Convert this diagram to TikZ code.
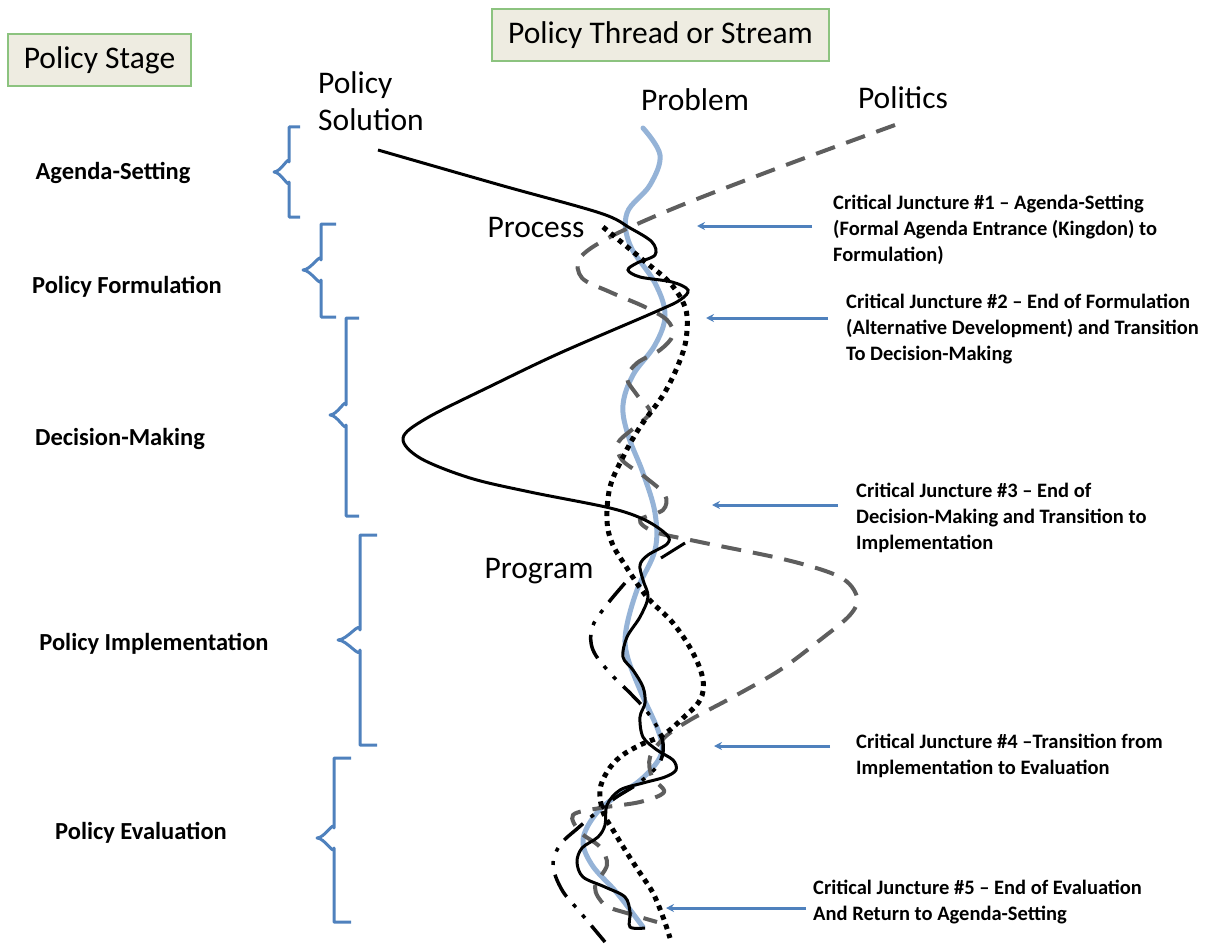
\documentclass[tikz,border=0pt]{standalone}
\usepackage{fontspec}
\setmainfont{Carlito}
\usetikzlibrary{arrows.meta}
\definecolor{probblue}{HTML}{95B3D7}
\definecolor{accblue}{HTML}{4F81BD}
\definecolor{polgray}{HTML}{5E5E5E}
\definecolor{boxfill}{HTML}{EEECE1}
\definecolor{boxline}{HTML}{8CC37F}
\tikzset{
  titlebox/.style={draw=boxline, fill=boxfill, line width=1.2pt, minimum height=52pt, inner sep=0pt, font=\fontsize{31.5}{37}\selectfont},
  big/.style={font=\fontsize{31.5}{37}\selectfont, inner sep=0pt},
  stage/.style={font=\bfseries\fontsize{24.5}{29}\selectfont, inner sep=0pt},
  junct/.style={font=\bfseries\fontsize{20.5}{26}\selectfont, align=left, anchor=north west, inner sep=0pt},
  bracestyle/.style={accblue, line width=3pt, line join=round},
  arr/.style={accblue, line width=3pt, -{Stealth[length=8pt,width=8pt]}},
  problemline/.style={probblue, line width=5pt, line cap=round},
  solutionline/.style={black, line width=3pt},
  politicsline/.style={polgray, line width=4pt, dash pattern=on 20pt off 12pt},
  processline/.style={black, line width=5pt, dash pattern=on 5pt off 5pt},
  programline/.style={black, line width=3.5pt, dash pattern=on 25pt off 10pt on 4pt off 10pt on 4pt off 10pt}
}
\begin{document}
\begin{tikzpicture}[x=1pt,y=-1pt]
\useasboundingbox (0,0) rectangle (1208,947);

% header boxes
\node[titlebox, minimum width=183pt] (stagebox) at (99.5,60) {Policy Stage};
\node[titlebox, minimum width=337pt] (threadbox) at (660.5,35) {Policy Thread or Stream};

% stream labels
\node[big, align=left, anchor=north west] (solution) at (318,71) {Policy\\Solution};
\node[big] (problem) at (695,100) {Problem};
\node[big] (politics) at (903,98) {Politics};
\node[big] (process) at (536,228) {Process};
\node[big] (program) at (539,571) {Program};

% stage labels
\node[stage] (s1) at (113,173) {Agenda-Setting};
\node[stage] (s2) at (127,287) {Policy Formulation};
\node[stage] (s3) at (120,439) {Decision-Making};
\node[stage] (s4) at (154,644) {Policy Implementation};
\node[stage] (s5) at (141,833) {Policy Evaluation};

% braces
\draw[bracestyle] (300,127) -- (289,127) -- (289,162) to[out=90,in=0] (274,172) to[out=0,in=-90] (289,182) -- (289,217) -- (300,217);
\draw[bracestyle] (336,224) -- (321,224) -- (321,260) to[out=90,in=0] (303,270) to[out=0,in=-90] (321,280) -- (321,317) -- (336,317);
\draw[bracestyle] (359,318) -- (346,318) -- (346,405) to[out=90,in=0] (330,415) to[out=0,in=-90] (346,425) -- (346,516) -- (359,516);
\draw[bracestyle] (377,535) -- (360,535) -- (360,630) to[out=90,in=0] (338,640) to[out=0,in=-90] (360,650) -- (360,745) -- (377,745);
\draw[bracestyle] (351,758) -- (334,758) -- (334,828) to[out=90,in=0] (317,838) to[out=0,in=-90] (334,848) -- (334,922) -- (351,922);

% juncture labels
\node[junct] (j1) at (833,195) {Critical Juncture \#1 – Agenda-Setting\\(Formal Agenda Entrance (Kingdon) to\\Formulation)};
\node[junct] (j2) at (846,294) {Critical Juncture \#2 – End of Formulation\\(Alternative Development) and Transition\\To Decision-Making};
\node[junct] (j3) at (856,483) {Critical Juncture \#3 – End of\\Decision-Making and Transition to\\Implementation};
\node[junct] (j4) at (856,734) {Critical Juncture \#4 –Transition from\\Implementation to Evaluation};
\node[junct] (j5) at (813,880) {Critical Juncture \#5 – End of Evaluation\\And Return to Agenda-Setting};

% arrows
\coordinate (a1s) at (812,226); \coordinate (a1e) at (697,226);
\coordinate (a2s) at (828,318); \coordinate (a2e) at (706,318);
\coordinate (a3s) at (838,505); \coordinate (a3e) at (712,505);
\coordinate (a4s) at (830,746); \coordinate (a4e) at (714,746);
\coordinate (a5s) at (806,908); \coordinate (a5e) at (666,908);
\draw[arr] (a1s) -- (a1e);
\draw[arr] (a2s) -- (a2e);
\draw[arr] (a3s) -- (a3e);
\draw[arr] (a4s) -- (a4e);
\draw[arr] (a5s) -- (a5e);

% problem stream
\draw[problemline] plot[smooth, tension=0.6] coordinates {(643,128) (660,155) (650,185) (627,213) (630,245) (655,283) (665,315) (655,345) (633,375) (623,405) (628,435) (643,473) (655,513) (655,550) (637,590) (626,630) (627,655) (640,690) (658,730) (662,750) (655,765) (638,782) (615,797) (595,815) (583,840) (592,865) (617,893) (643,927)};

% politics stream
\draw[politicsline] plot[smooth, tension=0.55] coordinates {(895,125) (786,165) (677,207) (610,237) (580,258) (582,278) (610,292) (645,307) (667,320) (673,335) (660,350) (637,363) (627,378) (637,395) (650,412) (635,427) (618,443) (622,460) (645,477) (665,495) (663,510) (640,520) (655,532) (700,542) (787,560) (840,577) (857,597) (850,615) (820,640) (780,670) (733,697) (690,720) (665,737) (650,757) (652,777) (664,792) (640,802) (600,808) (573,815) (580,832) (600,847) (607,865) (595,887) (605,905) (630,914) (657,922)};

% process stream (dotted)
\draw[processline] plot[smooth, tension=0.6] coordinates {(603,227) (643,260) (670,283) (685,307) (687,330) (682,355) (665,392) (640,427) (623,457) (610,487) (607,520) (612,543) (625,565) (647,597) (673,623) (693,653) (703,680) (700,700) (683,718) (663,735) (640,745) (620,757) (607,772) (600,790) (603,812) (613,830) (627,853) (640,873) (653,893) (663,917) (670,938)};

% program stream (dash-dot)
\draw[programline] plot[smooth, tension=0.6] coordinates {(625,583) (605,607) (592,628) (593,650) (610,673) (632,695) (648,713) (662,738) (660,762) (640,782) (615,798) (597,812) (578,828) (560,845) (553,865) (562,890) (580,912) (605,942)};

% policy solution stream
\draw[solutionline] plot[smooth, tension=0.55] coordinates {(378,150) (500,185) (600,213) (630,228) (652,242) (655,255) (637,263) (628,270) (640,277) (672,282) (688,290) (680,300) (655,312) (560,353) (493,385) (427,418) (403,438) (420,458) (470,478) (530,492) (610,508) (645,520) (667,535) (667,544) (648,555) (640,565) (643,580) (648,597) (640,617) (627,637) (623,657) (633,670) (643,687) (645,703) (640,717) (643,737) (657,750) (673,760) (676,770) (665,777) (643,783) (620,790) (607,805) (605,825) (598,837) (582,848) (577,862) (583,877) (605,887) (625,897) (630,912) (630,927) (645,928)};
\draw[solutionline] (685,543) -- (661,558);
\end{tikzpicture}
\end{document}
